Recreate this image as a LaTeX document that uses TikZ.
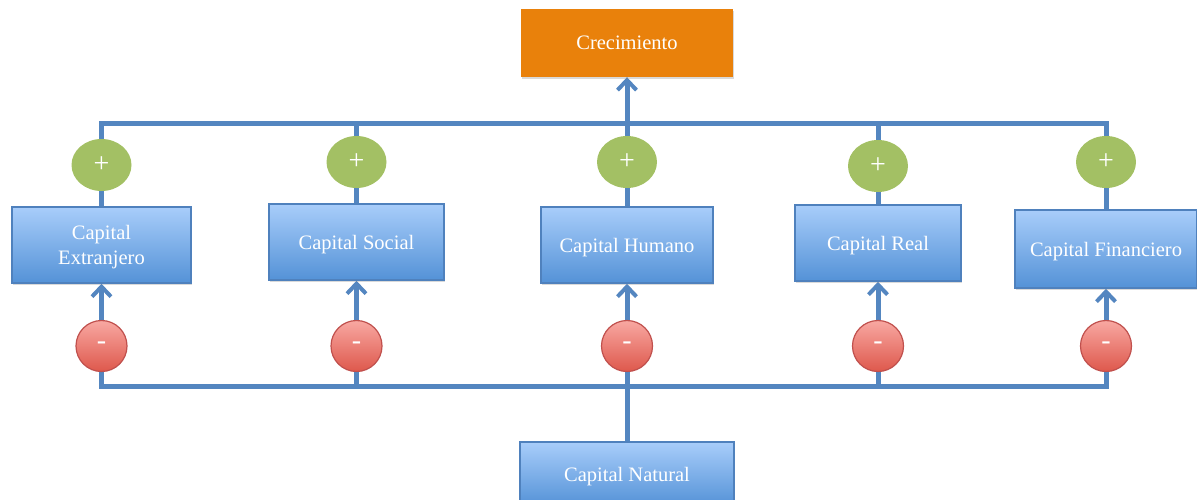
\documentclass[tikz,border=0pt]{standalone}
\usepackage{fontspec}
\setmainfont{Liberation Serif}
\usetikzlibrary{positioning,arrows.meta,backgrounds,shadows,shapes.geometric}
\definecolor{lnblue}{RGB}{84,134,192}
\definecolor{crorange}{RGB}{233,129,11}
\definecolor{plgreen}{RGB}{163,192,100}
\definecolor{boxtop}{RGB}{168,205,250}
\definecolor{boxbot}{RGB}{84,146,215}
\definecolor{boxedge}{RGB}{79,129,189}
\definecolor{mitop}{RGB}{248,168,162}
\definecolor{mibot}{RGB}{222,88,76}
\definecolor{miedge}{RGB}{192,80,77}

\begin{document}
\begin{tikzpicture}[x=1pt,y=-1pt,font=\fontsize{20.5}{25}\selectfont,
  >={Straight Barb[length=10pt,width=19pt,line width=4pt]},
  b/.style={draw=boxedge,line width=1.5pt,top color=boxtop,bottom color=boxbot,
    text=white,align=center,inner sep=0pt,text depth=-4pt,
    drop shadow={opacity=0.3,shadow xshift=1pt,shadow yshift=-2pt}},
  pl/.style={ellipse,fill=plgreen,text=white,inner sep=0pt,text depth=-3pt,
    font=\fontsize{28}{30}\selectfont,minimum width=60pt,minimum height=52pt},
  mi/.style={circle,draw=miedge,line width=1.2pt,top color=mitop,bottom color=mibot,
    text=white,inner sep=0pt,text depth=-2pt,font=\fontsize{28}{30}\selectfont,minimum size=51pt},
  ln/.style={draw=lnblue,line width=5pt}]
  \useasboundingbox (0,0) rectangle (1197,499);
  \node[draw=none,fill=crorange,text=white,minimum width=212pt,minimum height=68pt,text depth=-4pt,
        drop shadow={opacity=0.3,shadow xshift=1pt,shadow yshift=-2pt}] (cre) at (627,43) {Crecimiento};
  \node[b,minimum width=179pt,minimum height=76pt] (ext) at (101.5,245) {Capital\\Extranjero};
  \node[b,minimum width=175pt,minimum height=76pt] (soc) at (356.5,242) {Capital Social};
  \node[b,minimum width=172pt,minimum height=76pt] (hum) at (627,245) {Capital Humano};
  \node[b,minimum width=166pt,minimum height=76pt] (real) at (878,243) {Capital Real};
  \node[b,minimum width=182pt,minimum height=78pt] (fin) at (1106,249) {Capital Financiero};
  \node[b,minimum width=214pt,minimum height=64pt] (nat) at (627,474) {Capital Natural};
  \node[pl] (p1) at (101.5,165) {+};
  \node[pl] (p2) at (356.5,162) {+};
  \node[pl] (p3) at (627,162) {+};
  \node[pl] (p4) at (878,166) {+};
  \node[pl] (p5) at (1106,162) {+};
  \node[mi] (m1) at (101.5,346) {-};
  \node[mi] (m2) at (356.5,346) {-};
  \node[mi] (m3) at (627,346) {-};
  \node[mi] (m4) at (878,346) {-};
  \node[mi] (m5) at (1106,346) {-};
  \coordinate (tb) at (627,123);
  \coordinate (bb) at (627,386);
  \begin{scope}[on background layer]
    \foreach \n in {ext,soc,real,fin}
      \draw[ln] (\n) |- (tb);
    \draw[ln] (hum) -- (tb);
    \draw[ln,->] (tb) -- (cre);
    \draw[ln] (nat) -- (bb);
    \foreach \n in {ext,soc,real,fin}
      \draw[ln,->] (bb) -| (\n);
    \draw[ln,->] (bb) -- (hum);
  \end{scope}
\end{tikzpicture}
\end{document}
